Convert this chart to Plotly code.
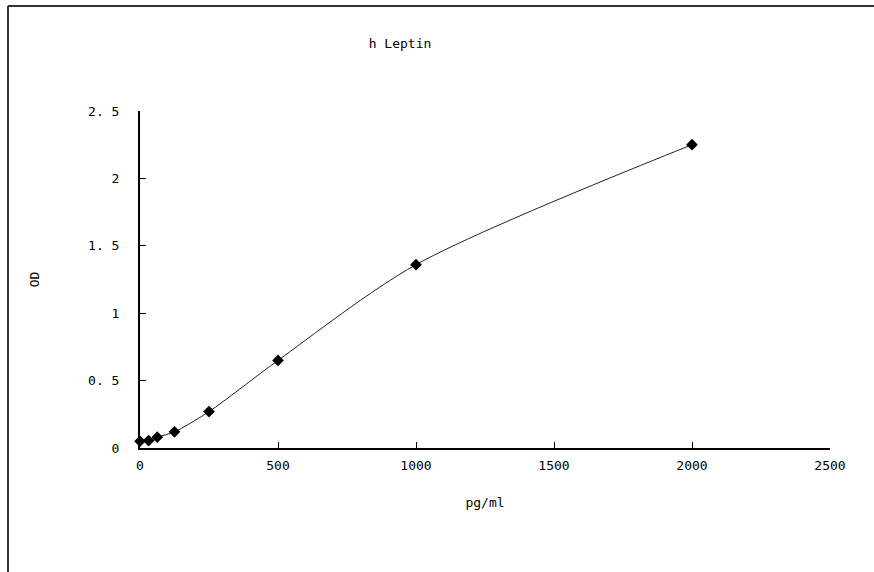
import plotly.graph_objects as go

conc = [0, 31.25, 62.5, 125, 250, 500, 1000, 2000]
od = [0.05, 0.055, 0.08, 0.12, 0.27, 0.65, 1.36, 2.25]
xticks = [0, 500, 1000, 1500, 2000, 2500]
yticks = [0, 0.5, 1, 1.5, 2, 2.5]
yticktext = ["0", "0. 5", "1", "1. 5", "2", "2. 5"]

W, H = 874, 572
L, R, T, B = 140, 44, 111, 124
pw, ph = W - L - R, H - T - B

def px(x):
    return (x - L) / pw

def py(y):
    return (H - B - y) / ph

font = dict(family="DejaVu Sans Mono, monospace", size=13, color="#000000")

fig = go.Figure()
fig.add_trace(go.Scatter(
    x=conc, y=od, mode="lines+markers",
    line=dict(color="#222222", width=1, shape="spline", smoothing=0.8),
    marker=dict(symbol="diamond", size=9, color="#000000"),
    showlegend=False, cliponaxis=False,
))

fig.update_layout(
    width=W, height=H,
    margin=dict(l=L, r=R, t=T, b=B),
    paper_bgcolor="white", plot_bgcolor="white",
    font=font,
    title=dict(text="h Leptin", x=px(400), xanchor="center", xref="paper",
               y=1 - 43 / H, yanchor="middle", font=font),
    xaxis=dict(range=[0, 2500], tickvals=xticks, showgrid=False, zeroline=False,
               showline=True, linecolor="#000000", linewidth=2,
               ticks="inside", ticklen=6, tickcolor="#000000", tickwidth=1,
               ticklabelstandoff=4,
               title=dict(text="pg/ml", standoff=26, font=font)),
    yaxis=dict(range=[0, 2.5], tickvals=yticks, ticktext=yticktext, showgrid=False,
               zeroline=False, showline=True, linecolor="#000000", linewidth=2,
               ticks="inside", ticklen=6, tickcolor="#000000", tickwidth=1,
               ticklabelstandoff=16,
               title=dict(text="OD", standoff=46, font=font)),
    shapes=[
        dict(type="line", xref="paper", yref="paper", x0=px(8), x1=px(880),
             y0=py(6), y1=py(6), line=dict(color="#333333", width=2)),
        dict(type="line", xref="paper", yref="paper", x0=px(8), x1=px(8),
             y0=py(6), y1=py(580), line=dict(color="#333333", width=2)),
    ],
)

fig.write_html("out.html", config={"displayModeBar": False},
               post_script="document.body.style.margin='0';")
